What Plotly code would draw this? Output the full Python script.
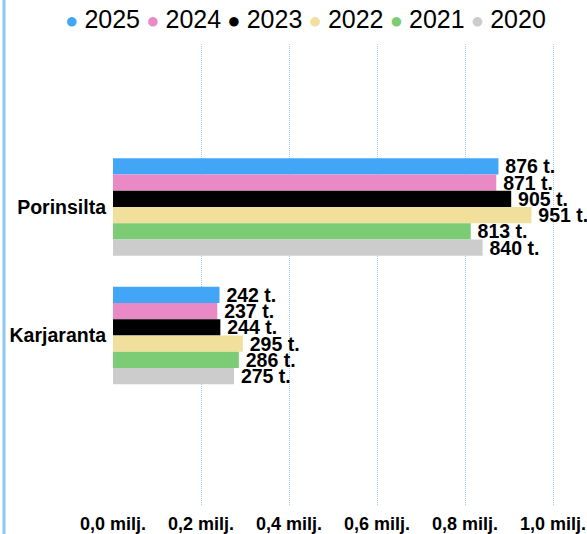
import plotly.graph_objects as go

categories = ["Porinsilta", "Karjaranta"]
years = ["2025", "2024", "2023", "2022", "2021", "2020"]
values = {
    "2025": [876, 242],
    "2024": [871, 237],
    "2023": [905, 244],
    "2022": [951, 295],
    "2021": [813, 286],
    "2020": [840, 275],
}
colors = ["#42a5f5", "#e98ac7", "#000000", "#f0e09b", "#7bcc74", "#cccccc"]
tick_vals = [0, 0.2, 0.4, 0.6, 0.8, 1.0]
tick_text = ["0,0 milj.", "0,2 milj.", "0,4 milj.", "0,6 milj.", "0,8 milj.", "1,0 milj."]

fig = go.Figure()
for yr, col in zip(years, colors):
    v = values[yr]
    fig.add_trace(go.Bar(
        y=categories,
        x=[a / 1000 for a in v],
        orientation="h",
        name=yr,
        marker=dict(color=col, line=dict(width=0)),
        text=[f"\u2009{a} t." for a in v],
        textposition="outside",
        textfont=dict(family="Liberation Sans", size=19.5, color="#000000", weight="bold"),
        constraintext="none",
        cliponaxis=False,
        showlegend=False,
        hoverinfo="skip",
    ))

legend_text = "<span style='font-size:22px'> </span>".join(
    f"<span style='color:{c};font-size:22px'>● </span>{y}" for y, c in zip(years, colors)
)

fig.update_layout(
    width=587,
    height=534,
    margin=dict(l=113, r=0, t=44, b=29),
    paper_bgcolor="white",
    plot_bgcolor="white",
    barmode="group",
    bargap=0.24,
    bargroupgap=0,
    font=dict(family="Liberation Sans", color="#000000"),
    xaxis=dict(
        range=[0, 474 / 440],
        tickvals=tick_vals,
        ticktext=tick_text,
        tickfont=dict(size=18, weight="bold"),
        showgrid=True,
        gridcolor="#9fcdf3",
        griddash="1px,1px",
        gridwidth=1,
        zeroline=False,
        showline=False,
        ticks="",
        ticklabelstandoff=6,
    ),
    yaxis=dict(
        type="category",
        categoryorder="array",
        categoryarray=categories,
        range=[2.319, -1.268],
        tickfont=dict(size=19.5, weight="bold"),
        showgrid=False,
        zeroline=False,
        showline=False,
        ticks="",
        ticklabelstandoff=6,
    ),
    annotations=[dict(
        text=legend_text,
        xref="paper", yref="paper",
        x=(305 - 113) / 474, y=1 + 25 / 461,
        xanchor="center", yanchor="middle",
        showarrow=False,
        font=dict(family="Liberation Sans", size=25, color="#000000"),
    )],
    shapes=[dict(
        type="line",
        xref="paper", yref="paper",
        x0=(4 - 113) / 474, x1=(4 - 113) / 474,
        y0=-29 / 461, y1=1 + 44 / 461,
        line=dict(color="#8fc8f2", width=3),
    )],
)

fig.write_html(
    "out.html",
    config={"displayModeBar": False},
    post_script="document.body.style.margin='0px';document.body.style.overflow='hidden';",
)
